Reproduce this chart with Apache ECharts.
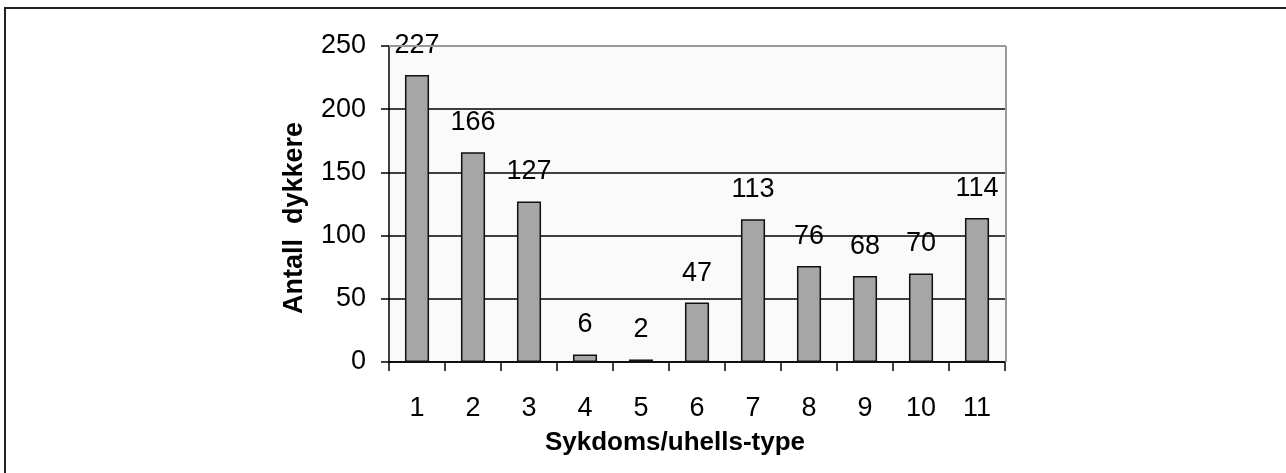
<!DOCTYPE html>
<html>
<head>
<meta charset="utf-8">
<script src="https://cdn.jsdelivr.net/npm/echarts@6/dist/echarts.min.js"></script>
<style>
html,body{margin:0;padding:0;background:#fff;}
#frame{position:absolute;left:4px;top:7px;width:1400px;height:600px;border-left:2px solid #222;border-top:2px solid #222;}
#chart{position:absolute;left:0;top:0;width:1286px;height:473px;}
</style>
</head>
<body>
<div id="frame"></div>
<div id="chart"></div>
<script>
const categories = ['1','2','3','4','5','6','7','8','9','10','11'];
const values = [227,166,127,6,2,47,113,76,68,70,114];
const yTicks = [0,50,100,150,200,250];
const xTitle = 'Sykdoms/uhells-type';
const yTitle = 'Antall  dykkere';

const chart = echarts.init(document.getElementById('chart'), null, {renderer:'canvas'});
const font = 'Liberation Sans, Arial, sans-serif';
chart.setOption({
  animation:false,
  grid:{left:389,right:281,top:46,bottom:111,show:true,backgroundColor:'#fafafa',borderColor:'transparent',borderWidth:0},
  xAxis:{
    type:'category',data:categories,
    axisLine:{lineStyle:{color:'#000',width:1.5}},
    axisTick:{show:true,length:9,inside:false,lineStyle:{color:'#000',width:1.5}},
    axisLabel:{color:'#000',fontFamily:font,fontSize:27,margin:33}
  },
  yAxis:{
    type:'value',min:yTicks[0],max:yTicks[yTicks.length-1],interval:50,
    axisLine:{show:true,lineStyle:{color:'#000',width:1.5}},
    axisTick:{show:true,length:8,inside:false,lineStyle:{color:'#000',width:1.5}},
    axisLabel:{color:'#000',fontFamily:font,fontSize:27,margin:23},
    splitLine:{show:true,lineStyle:{color:'#000',width:1.5}}
  },
  graphic:[
    {type:'line',shape:{x1:389,y1:46,x2:1006,y2:46},style:{stroke:'#999',lineWidth:2},z:10},
    {type:'line',shape:{x1:1006,y1:46,x2:1006,y2:362},style:{stroke:'#999',lineWidth:2},z:10},
    {type:'text',x:295,y:218,rotation:Math.PI/2,style:{text:yTitle,font:'bold 27px '+font,fill:'#000',textAlign:'center',textVerticalAlign:'middle'}},
    {type:'text',x:675,y:443,style:{text:xTitle,font:'bold 26px '+font,fill:'#000',textAlign:'center',textVerticalAlign:'middle'}}
  ],
  series:[{
    type:'bar',data:values,barWidth:'43%',
    itemStyle:{color:'#a6a6a6',borderColor:'#111',borderWidth:1.5},
    label:{show:true,position:'top',distance:16,color:'#000',fontFamily:font,fontSize:27}
  }]
});
</script>
</body>
</html>
